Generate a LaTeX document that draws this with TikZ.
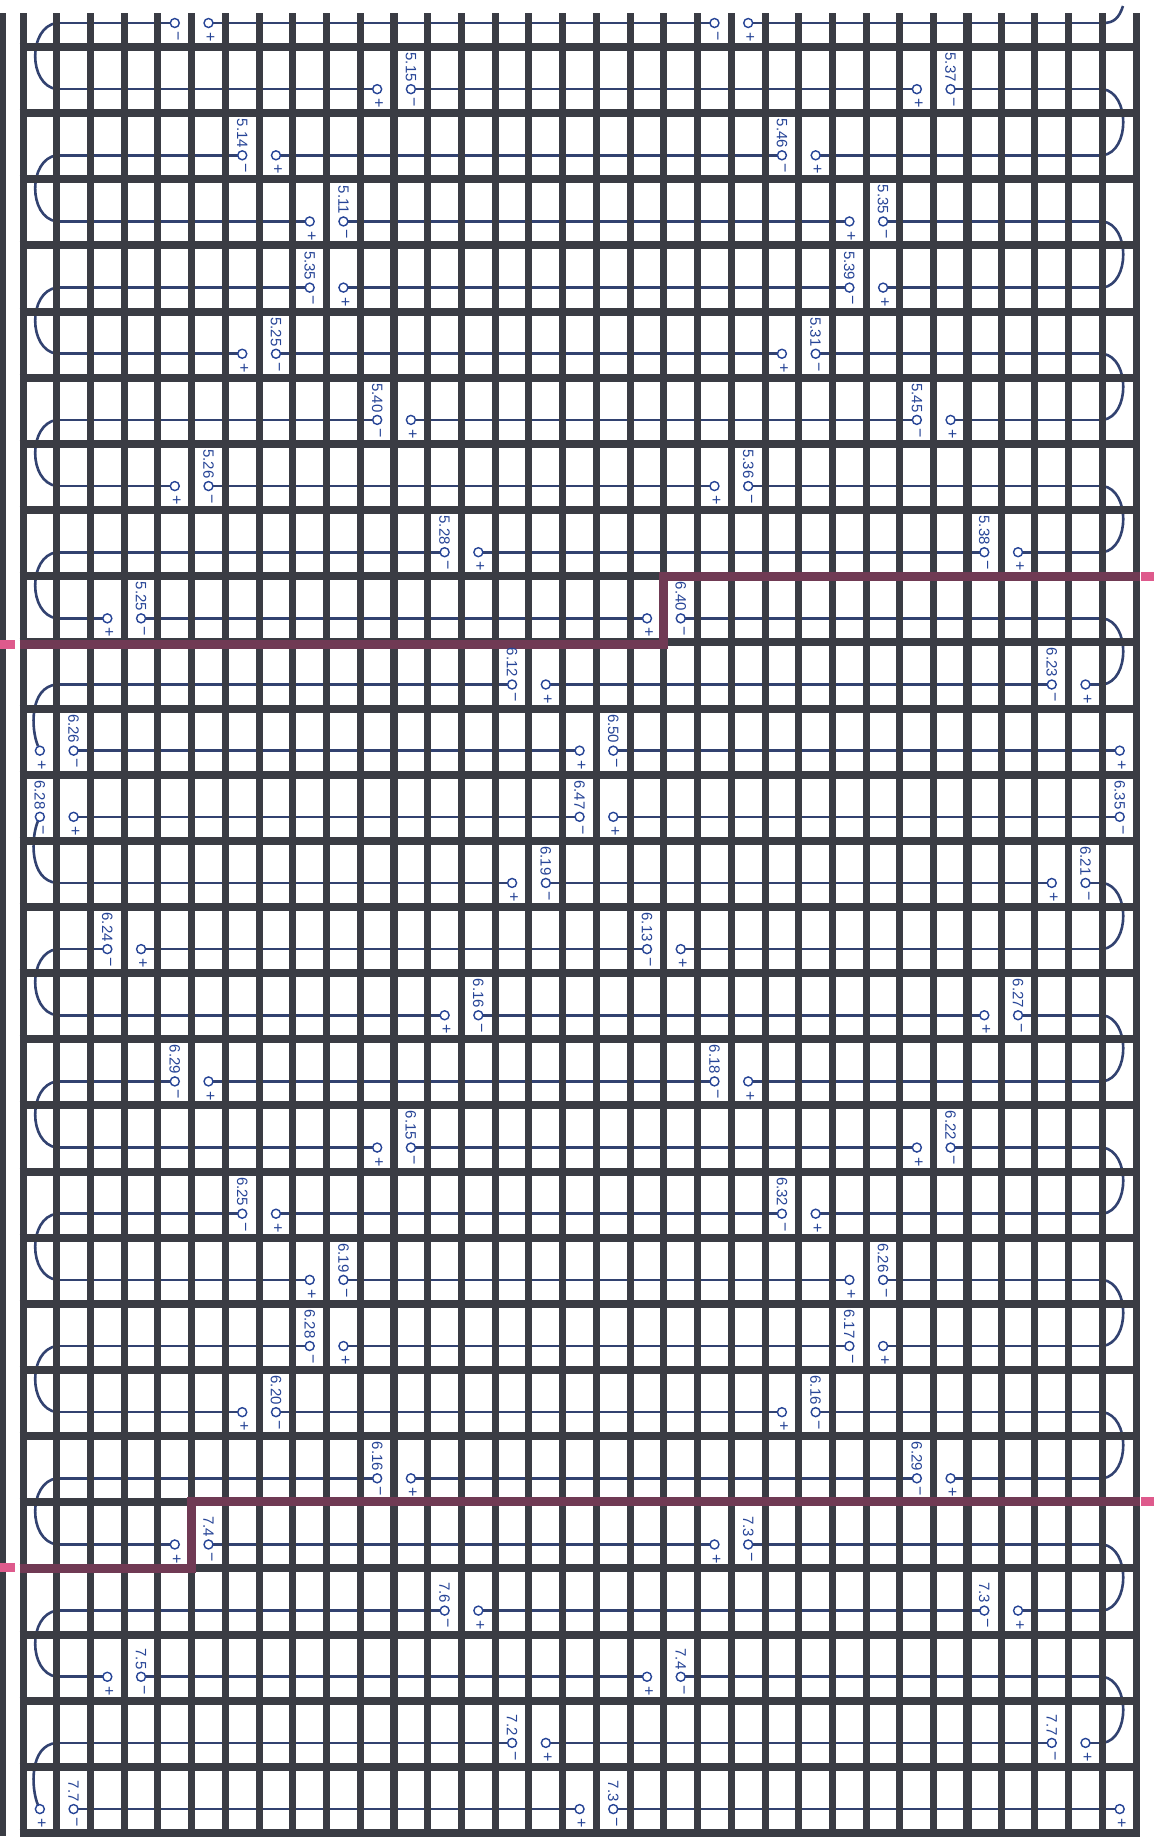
\documentclass[tikz,border=0pt]{standalone}
\usepackage{fontspec}
\setmainfont{Liberation Sans}
\definecolor{gridc}{RGB}{58,60,68}
\definecolor{wirec}{RGB}{50,66,112}
\definecolor{ink}{RGB}{38,68,150}
\definecolor{bound}{RGB}{112,58,84}
\definecolor{markc}{RGB}{222,90,140}
\begin{document}
\begin{tikzpicture}[x=0.5pt,y=-0.5pt,
  vline/.style={draw=gridc, line width=3.5pt},
  vlinebold/.style={draw=gridc, line width=4.3pt},
  hline/.style={draw=gridc, line width=4pt},
  wireline/.style={draw=wirec, line width=1.3pt},
  gapline/.style={draw=white, line width=2.2pt},
  term/.style={circle, draw=ink, fill=white, line width=0.7pt, inner sep=0pt, minimum size=4.5pt},
  lab/.style={text=ink, font=\fontsize{7.5}{8}\selectfont, inner sep=0.5pt, rotate=-90, anchor=east},
  sgn/.style={text=ink, font=\fontsize{8}{8}\selectfont, inner sep=0pt},
  boundary/.style={draw=bound, line width=4.5pt},
  marker/.style={fill=markc}]
\useasboundingbox (0,0) rectangle (1154,1843);
\fill[white] (0,0) rectangle (1154,1843);
\fill[gridc] (0,13) rectangle (6,1836);
% pair list: row / left cell / type (0: minus left, 1: plus left) / label of the minus terminal
\def\pairlist{0/4/0/{},0/20/0/{},
1/10/1/5.15,1/26/1/5.37,
2/6/0/5.14,2/22/0/5.46,
3/8/1/5.11,3/24/1/5.35,
4/8/0/5.35,4/24/0/5.39,
5/6/1/5.25,5/22/1/5.31,
6/10/0/5.40,6/26/0/5.45,
7/4/1/5.26,7/20/1/5.36,
8/12/0/5.28,8/28/0/5.38,
9/2/1/5.25,9/18/1/6.40,
10/14/0/6.12,10/30/0/6.23,
11/0/1/6.26,11/16/1/6.50,
12/0/0/6.28,12/16/0/6.47,
13/14/1/6.19,13/30/1/6.21,
14/2/0/6.24,14/18/0/6.13,
15/12/1/6.16,15/28/1/6.27,
16/4/0/6.29,16/20/0/6.18,
17/10/1/6.15,17/26/1/6.22,
18/6/0/6.25,18/22/0/6.32,
19/8/1/6.19,19/24/1/6.26,
20/8/0/6.28,20/24/0/6.17,
21/6/1/6.20,21/22/1/6.16,
22/10/0/6.16,22/26/0/6.29,
23/4/1/7.4,23/20/1/7.3,
24/12/0/7.6,24/28/0/7.3,
25/2/1/7.5,25/18/1/7.4,
26/14/0/7.2,26/30/0/7.7,
27/0/1/7.7,27/16/1/7.3}
% wires
\foreach \k in {0,...,27} {
  \pgfmathsetmacro\yy{23+66.15*\k}
  \draw[wireline] (56.7,\yy) -- (1103,\yy);
}
\coordinate (e11) at (1119.7,750.65);
\coordinate (e12) at (1119.7,816.8);
\coordinate (e27) at (1119.7,1809.05);
\draw[wireline] (1103,750.65) -- (e11);
\draw[wireline] (1103,816.8) -- (e12);
\draw[wireline] (1103,1809.05) -- (e27);
% left loops
\foreach \k in {0,2,4,6,8,14,16,18,20,22,24} {
  \pgfmathsetmacro\ya{23+66.15*\k}
  \pgfmathsetmacro\yb{23+66.15*(\k+1)}
  \draw[wireline] (56.7,\ya) .. controls (28,{\ya+4}) and (28,{\yb-4}) .. (56.7,\yb);
}
\draw[wireline] (56.7,684.5) .. controls (29,687) and (31,730) .. (38,746);
\draw[wireline] (38,821) .. controls (31,837) and (29,880) .. (56.7,882.95);
\draw[wireline] (56.7,1742.9) .. controls (29,1745) and (31,1789) .. (38,1805);
% right loops
\foreach \k in {1,3,5,7,9,13,15,17,19,21,23,25} {
  \pgfmathsetmacro\ya{23+66.15*\k}
  \pgfmathsetmacro\yb{23+66.15*(\k+1)}
  \draw[wireline] (1103,\ya) .. controls (1130,{\ya+4}) and (1130,{\yb-4}) .. (1103,\yb);
}
\draw[wireline] (1103,23) .. controls (1114,23) and (1119,18) .. (1123,6);
% gaps in the wire between the two terminals of a pair
\foreach \k/\a/\tp/\vlab in \pairlist {
  \pgfmathsetmacro\yy{23+66.15*\k}
  \pgfmathsetmacro\xl{39.865+33.73*\a}
  \draw[gapline] ({\xl+4},\yy) -- ({\xl+29.7},\yy);
}
% grid
\foreach \i in {0,...,33} {
  \draw[vline] ({23+33.73*\i},13) -- ({23+33.73*\i},1836);
}
\draw[vlinebold] (394.03,13) -- (394.03,1836);
\draw[vlinebold] (967.44,13) -- (967.44,1836);
\foreach \j in {0,...,27} {
  \draw[hline] (19.5,{47+66.15*\j}) -- (1139.5,{47+66.15*\j});
}
% pack boundaries
\draw[boundary] (19.5,644.35) -- (663.9,644.35) -- (663.9,576.2) -- (1139.5,576.2);
\draw[boundary] (19.5,1568.05) -- (191.65,1568.05) -- (191.65,1501.9) -- (1139.5,1501.9);
\fill[marker] (0,640) rectangle (15,649);
\fill[marker] (0,1563) rectangle (15,1572);
\fill[marker] (1141,572) rectangle (1154,581);
\fill[marker] (1141,1497) rectangle (1154,1506);
% terminals
\foreach \k/\a/\tp/\vlab in \pairlist {
  \pgfmathsetmacro\yy{23+66.15*\k}
  \pgfmathsetmacro\xl{39.865+33.73*\a}
  \pgfmathsetmacro\xr{\xl+33.73}
  \ifnum\tp=0
    \node[term] (m\k-\a) at (\xl,\yy) {};
    \node[sgn, rotate=-90] (ms\k-\a) at ({\xl+1},{\yy+13}) {−};
    \node[lab] (ml\k-\a) at (\xl,{\yy-6}) {\vlab};
    \node[term] (p\k-\a) at (\xr,\yy) {};
    \node[sgn] (ps\k-\a) at ({\xr+2},{\yy+15}) {+};
  \else
    \node[term] (p\k-\a) at (\xl,\yy) {};
    \node[sgn] (ps\k-\a) at ({\xl+2},{\yy+15}) {+};
    \node[term] (m\k-\a) at (\xr,\yy) {};
    \node[sgn, rotate=-90] (ms\k-\a) at ({\xr+1},{\yy+13}) {−};
    \node[lab] (ml\k-\a) at (\xr,{\yy-6}) {\vlab};
  \fi
}
\node[term] (p11e) at (e11) {};
\node[sgn] (p11es) at (1121.7,765.65) {+};
\node[term] (m12e) at (e12) {};
\node[sgn, rotate=-90] (m12es) at (1120.7,829.8) {−};
\node[lab] (m12el) at (1119.7,810.8) {6.35};
\node[term] (p27e) at (e27) {};
\node[sgn] (p27es) at (1121.7,1824.05) {+};
\end{tikzpicture}
\end{document}
